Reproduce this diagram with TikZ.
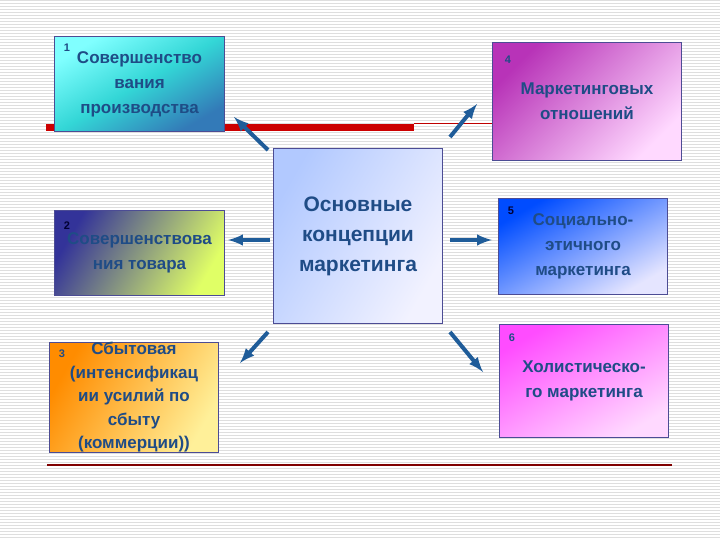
\documentclass[tikz,border=0pt]{standalone}
\usepackage{fontspec}
\setmainfont{Liberation Sans}
\begin{document}
\begin{tikzpicture}[x=1pt,y=-1pt,
  box/.style={draw=blue!40!black!70, line width=1pt, align=center, inner sep=0pt, font=\bfseries\fontsize{17}{25}\selectfont, text=tc, anchor=north west},
  num/.style={font=\bfseries\fontsize{11}{11}\selectfont, text=tc},
  arr/.style={-latex, line width=4pt, draw=ac}]
\definecolor{tc}{HTML}{1F4C86}
\definecolor{ac}{HTML}{1F5C99}
\useasboundingbox (0,0) rectangle (720,540);
\fill[white] (0,0) rectangle (720,540);
\foreach \y in {0,3,...,540} \draw[black!13, line width=0.6pt] (0,\y) -- (720,\y);
\fill[red!80!black] (46,124) rectangle (414,131);
\draw[red!75!black, line width=0.8pt] (414,123) -- (492,123);
\draw[red!50!black, line width=1.2pt] (47,465) -- (672,465);
\node[box, minimum width=170pt, minimum height=95pt, top color=cyan!50!white, bottom color=teal!70!blue!80, middle color=cyan!60!teal!80, shading angle=30] (b1) at (54,36) {Совершенство\\вания\\производства};
\node[num] at (67,48) {1};
\node[box, minimum width=189pt, minimum height=118pt, left color=violet!70!magenta!80, right color=magenta!15!white, shading angle=45] (b4) at (492,42) {Маркетинговых\\отношений};
\node[num] at (508,60) {4};
\node[box, minimum width=169pt, minimum height=175pt, left color=cyan!30!blue!30, right color=blue!5!white, shading angle=60, font=\bfseries\fontsize{21}{30}\selectfont] (c) at (273,148) {Основные\\концепции\\маркетинга};
\node[box, minimum width=170pt, minimum height=85pt, left color=blue!50!black!80, middle color=yellow!70!green!70, right color=yellow!80!green!60, shading angle=60] (b2) at (54,210) {Совершенствова\\ния товара};
\node[num, text=blue!20!black] at (67,226) {2};
\node[box, minimum width=169pt, minimum height=96pt, left color=blue!70!cyan, right color=blue!10!white, shading angle=30] (b5) at (498,198) {Социально-\\этичного\\маркетинга};
\node[num, text=blue!20!black] at (511,211) {5};
\node[box, minimum width=169pt, minimum height=110pt, left color=orange!90!yellow, right color=orange!30!yellow!40, shading angle=60, font=\bfseries\fontsize{17}{23.5}\selectfont] (b3) at (49,342) {Сбытовая\\(интенсификац\\ии усилий по\\сбыту\\(коммерции))};
\node[num] at (62,354) {3};
\node[box, minimum width=169pt, minimum height=113pt, left color=magenta!70, right color=magenta!15!white, shading angle=30] (b6) at (499,324) {Холистическо-\\го маркетинга};
\node[num] at (512,338) {6};
\coordinate (s1) at (268,150); \coordinate (e1) at (234,117);
\coordinate (s4) at (450,137); \coordinate (e4) at (477,104);
\coordinate (s2) at (270,240); \coordinate (e2) at (228,240);
\coordinate (s5) at (450,240); \coordinate (e5) at (492,240);
\coordinate (s3) at (268,332); \coordinate (e3) at (240,363);
\coordinate (s6) at (450,332); \coordinate (e6) at (483,372);
\foreach \i in {1,...,6} \draw[arr] (s\i) -- (e\i);
\end{tikzpicture}
\end{document}
